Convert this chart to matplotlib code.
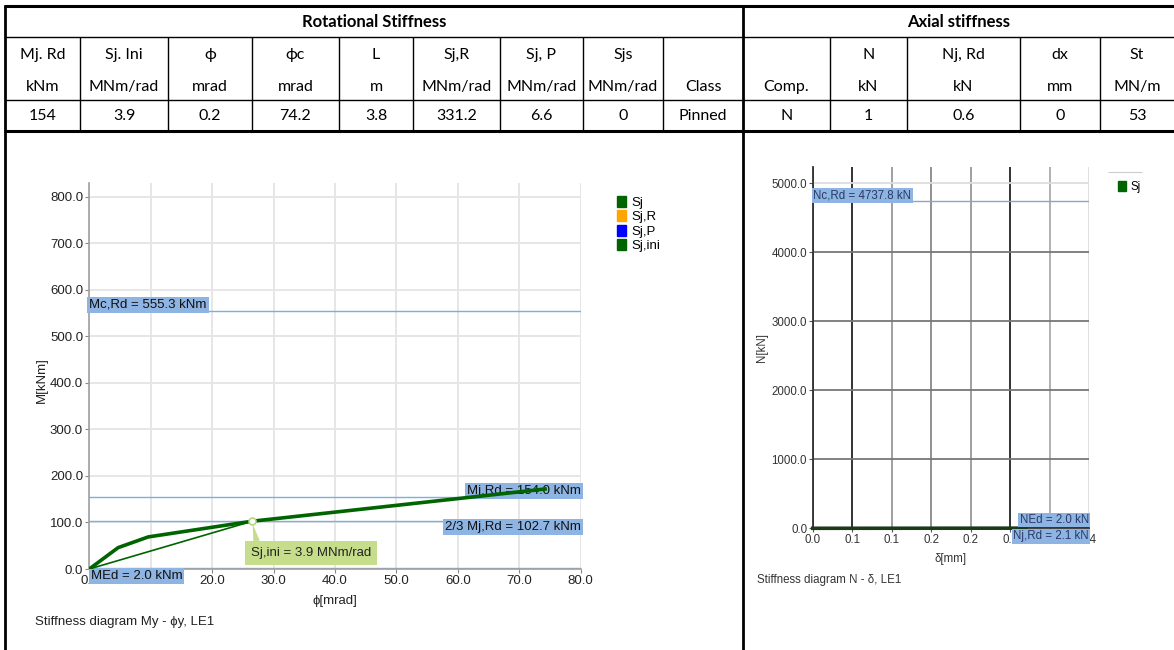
"""Joint stiffness summary: table plus My-phi and N-delta diagrams."""

import matplotlib
matplotlib.use("Agg")
import matplotlib.pyplot as plt
from matplotlib.lines import Line2D
from matplotlib.patches import Patch

W, H = 1174, 650

# table contents
rot_header = ["Mj. Rd", "Sj. Ini", "ϕ", "ϕc", "L", "Sj,R", "Sj, P", "Sjs", ""]
rot_units = ["kNm", "MNm/rad", "mrad", "mrad", "m", "MNm/rad", "MNm/rad", "MNm/rad", "Class"]
rot_values = ["154", "3.9", "0.2", "74.2", "3.8", "331.2", "6.6", "0", "Pinned"]
axial_header = ["", "N", "Nj, Rd", "dx", "St"]
axial_units = ["Comp.", "kN", "kN", "mm", "MN/m"]
axial_values = ["N", "1", "0.6", "0", "53"]

# rotational stiffness diagram
phi_sj = [0.0, 4.7, 9.6, 26.5, 74.2]
m_sj = [0.0, 46.0, 69.0, 102.7, 172.0]
phi_ini = [0.0, 26.5]
m_ini = [0.0, 102.7]
mc_rd = 555.3
mj_rd = 154.0
mj_rd_23 = 102.7
m_ed = 2.0
sj_ini = 3.9
phi_ticks = [0, 10, 20, 30, 40, 50, 60, 70, 80]
m_ticks = [0, 100, 200, 300, 400, 500, 600, 700, 800]

# axial stiffness diagram
delta_sj = [0.0, 0.27]
n_sj = [0.0, 2.0]
nc_rd = 4737.8
n_ed = 2.0
nj_rd = 2.1
delta_ticks = [0.0, 0.05, 0.10, 0.15, 0.20, 0.25, 0.30, 0.35]
delta_ticklabels = ["0.0", "0.1", "0.1", "0.2", "0.2", "0.3", "0.3", "0.4"]
n_ticks = [0, 1000, 2000, 3000, 4000, 5000]

TABLE_FONT = ["Lato", "DejaVu Sans"]
CHART_FONT = ["Liberation Sans", "DejaVu Sans"]
GREEN = "#006400"
LINE_BLUE = "#7eaee0"
BOX_BLUE = "#8db4e2"
FS1 = 9.5   # left chart text
FS2 = 8.3   # right chart text

fig = plt.figure(figsize=(W / 100, H / 100), dpi=100)


def fx(x):
    return x / W


def fy(y):
    return 1 - y / H


def seg(x0, y0, x1, y1, lw=1.0, color="k"):
    fig.add_artist(Line2D([fx(x0), fx(x1)], [fy(y0), fy(y1)], color=color, lw=lw,
                          solid_capstyle="butt"))


def cell_text(x, y, s, bold=False):
    fig.text(fx(x), fy(y), s, ha="center", va="center", fontsize=12 if bold else 11.5,
             family=TABLE_FONT, fontweight="bold" if bold else "normal")


# ---- table grid ----
rot_edges = [5, 80, 168, 252, 339, 413, 500, 583, 663, 743]
axial_edges = [743, 830, 907, 1020, 1100, 1174]
seg(4, 6, 1174, 6, lw=2.2)
seg(5, 37, 1174, 37, lw=1.0)
seg(5, 100, 1174, 100, lw=1.0)
seg(4, 131, 1174, 131, lw=2.2)
seg(5, 5, 5, 650, lw=2.0)
seg(743, 5, 743, 650, lw=2.0)
for x in rot_edges[1:-1] + axial_edges[1:-1]:
    seg(x, 37, x, 131, lw=1.0)

cell_text((rot_edges[0] + rot_edges[-1]) / 2, 22, "Rotational Stiffness", bold=True)
cell_text((axial_edges[0] + axial_edges[-1]) / 2, 22, "Axial stiffness", bold=True)
for i in range(len(rot_header)):
    xc = (rot_edges[i] + rot_edges[i + 1]) / 2
    cell_text(xc, 55, rot_header[i])
    cell_text(xc, 87, rot_units[i])
    cell_text(xc, 116, rot_values[i])
for i in range(len(axial_header)):
    xc = (axial_edges[i] + axial_edges[i + 1]) / 2
    cell_text(xc, 55, axial_header[i])
    cell_text(xc, 87, axial_units[i])
    cell_text(xc, 116, axial_values[i])

# ---- rotational stiffness chart ----
ax1 = fig.add_axes([fx(89.3), fy(569), fx(580.7) - fx(89.3), fy(183) - fy(569)])
ax1.set_xlim(0, 80)
ax1.set_ylim(0, 830)
ax1.set_xticks(phi_ticks)
ax1.set_yticks(m_ticks)
ax1.set_xticklabels([f"{v:.1f}" for v in phi_ticks], family=CHART_FONT)
ax1.set_yticklabels([f"{v:.1f}" for v in m_ticks], family=CHART_FONT)
ax1.tick_params(labelsize=FS1, length=3, width=0.8, color="#888888", pad=1.5,
                labelcolor="#222222")
ax1.grid(True, color="#e4e4e4", lw=1.3)
ax1.set_axisbelow(True)
for s in ["top", "right"]:
    ax1.spines[s].set_visible(False)
for s in ["left", "bottom"]:
    ax1.spines[s].set_color("#a0a0a0")
    ax1.spines[s].set_linewidth(1.2)

for val in [mc_rd, mj_rd, mj_rd_23, m_ed]:
    ax1.axhline(val, color=LINE_BLUE, lw=1.0, zorder=2)

ax1.plot(phi_ini, m_ini, color=GREEN, lw=1.2, zorder=6)
ax1.plot(phi_sj, m_sj, color=GREEN, lw=2.6, zorder=6)
ax1.plot([phi_ini[-1]], [m_ini[-1]], "o", ms=5, mfc="white", mec="#b8d878", mew=1.2,
         zorder=8)

box = dict(boxstyle="square,pad=0.15", fc=BOX_BLUE, ec="none")
txt = dict(fontsize=FS1, family=CHART_FONT, color="#111111", zorder=5)
ax1.text(0, mc_rd, f"Mc,Rd = {mc_rd:.1f} kNm", ha="left", va="bottom", bbox=box, **txt)
ax1.text(80, mj_rd, f"Mj,Rd = {mj_rd:.1f} kNm", ha="right", va="bottom", bbox=box, **txt)
ax1.text(80, mj_rd_23, f"2/3 Mj,Rd = {mj_rd_23:.1f} kNm", ha="right", va="top", bbox=box,
         **txt)
ax1.text(0.2, m_ed - 4, f"MEd = {m_ed:.1f} kNm", ha="left", va="top", bbox=box,
         clip_on=False, **txt)
ax1.annotate(f"Sj,ini = {sj_ini:.1f} MNm/rad", xy=(phi_ini[-1], m_ini[-1]),
             xytext=(-1, -23), textcoords="offset points", ha="left", va="center",
             fontsize=FS1, family=CHART_FONT, color="#222222", zorder=7,
             bbox=dict(boxstyle="square,pad=0.45", fc="#c6de8c", ec="none"),
             arrowprops=dict(arrowstyle="wedge,tail_width=0.5,shrink_factor=0.5",
                             fc="#c6de8c", ec="none", relpos=(0.06, 1.0),
                             shrinkA=0, shrinkB=2))

ax1.set_xlabel("ϕ[mrad]", family=CHART_FONT, fontsize=FS1, labelpad=0, color="#222222")
ax1.set_ylabel("M[kNm]", family=CHART_FONT, fontsize=FS1, labelpad=0, color="#222222")
ax1.xaxis.set_label_coords(0.5, -0.068)
ax1.yaxis.set_label_coords(-0.085, 0.49)

ax1.legend(handles=[Patch(color=GREEN, label="Sj"), Patch(color="#ffa500", label="Sj,R"),
                    Patch(color="#0000ff", label="Sj,P"), Patch(color=GREEN, label="Sj,ini")],
           loc="upper left", bbox_to_anchor=(fx(610), fy(189)), bbox_transform=fig.transFigure,
           frameon=False, handlelength=0.7, handleheight=0.9, handletextpad=0.4,
           labelspacing=0.12, borderpad=0, prop=dict(family=CHART_FONT, size=FS1))

fig.text(fx(35), fy(622), "Stiffness diagram My - ϕy, LE1", ha="left", va="center",
         fontsize=FS1, family=CHART_FONT, color="#222222")

# ---- axial stiffness chart ----
ax2 = fig.add_axes([fx(812.7), fy(528.3), fx(1089) - fx(812.7), fy(167) - fy(528.3)])
ax2.set_xlim(0, 0.35)
ax2.set_ylim(0, 5236)
ax2.set_xticks(delta_ticks)
ax2.set_xticklabels(delta_ticklabels, family=CHART_FONT)
ax2.set_yticks(n_ticks)
ax2.set_yticklabels([f"{v:.1f}" for v in n_ticks], family=CHART_FONT)
ax2.tick_params(labelsize=FS2, length=3, width=0.8, color="#555555", pad=1,
                labelcolor="#333333")
ax2.grid(True, lw=1.3)
ax2.set_axisbelow(True)
xgrid_colors = ["#333333", "#222222", "#999999", "#888888", "#999999", "#222222",
                "#aaaaaa", "#dddddd"]
for gl, c in zip(ax2.xaxis.get_gridlines(), xgrid_colors):
    gl.set_color(c)
ygrid_colors = ["#444444", "#777777", "#777777", "#777777", "#777777", "#dddddd"]
for gl, c in zip(ax2.yaxis.get_gridlines(), ygrid_colors):
    gl.set_color(c)
for s in ["top", "right"]:
    ax2.spines[s].set_visible(False)
for s in ["left", "bottom"]:
    ax2.spines[s].set_color("#333333")
    ax2.spines[s].set_linewidth(1.3)

ax2.axhline(nc_rd, color="#8aa6c8", lw=1.0, zorder=2)
ax2.plot(delta_sj, n_sj, color="#1a3a1a", lw=2.6, zorder=4, clip_on=False)

box2 = dict(boxstyle="square,pad=0.12", fc=BOX_BLUE, ec="none")
txt2 = dict(fontsize=FS2, family=CHART_FONT, color="#2a3a66", zorder=5)
ax2.text(0.001, nc_rd, f"Nc,Rd = {nc_rd:.1f} kN", ha="left", va="bottom", bbox=box2, **txt2)
ax2.text(0.35, n_ed + 30, f"NEd = {n_ed:.1f} kN", ha="right", va="bottom", bbox=box2,
         clip_on=False, **txt2)
ax2.text(0.35, nj_rd - 30, f"Nj,Rd = {nj_rd:.1f} kN", ha="right", va="top", bbox=box2,
         clip_on=False, **txt2)

ax2.set_xlabel("δ[mm]", family=CHART_FONT, fontsize=FS2, labelpad=0, color="#333333")
ax2.set_ylabel("N[kN]", family=CHART_FONT, fontsize=FS2, labelpad=0, color="#333333")
ax2.xaxis.set_label_coords(0.5, -0.068)
ax2.yaxis.set_label_coords(-0.16, 0.5)

ax2.legend(handles=[Patch(color=GREEN, label="Sj")], loc="upper left",
           bbox_to_anchor=(fx(1112), fy(175)), bbox_transform=fig.transFigure,
           frameon=False, handlelength=0.7, handleheight=0.9, handletextpad=0.4,
           borderpad=0, prop=dict(family=CHART_FONT, size=FS2))
seg(1108, 172, 1142, 172, lw=0.8, color="#cccccc")

fig.text(fx(757), fy(580), "Stiffness diagram N - δ, LE1", ha="left", va="center",
         fontsize=FS2, family=CHART_FONT, color="#333333")

fig.savefig("out.png", dpi=100)
